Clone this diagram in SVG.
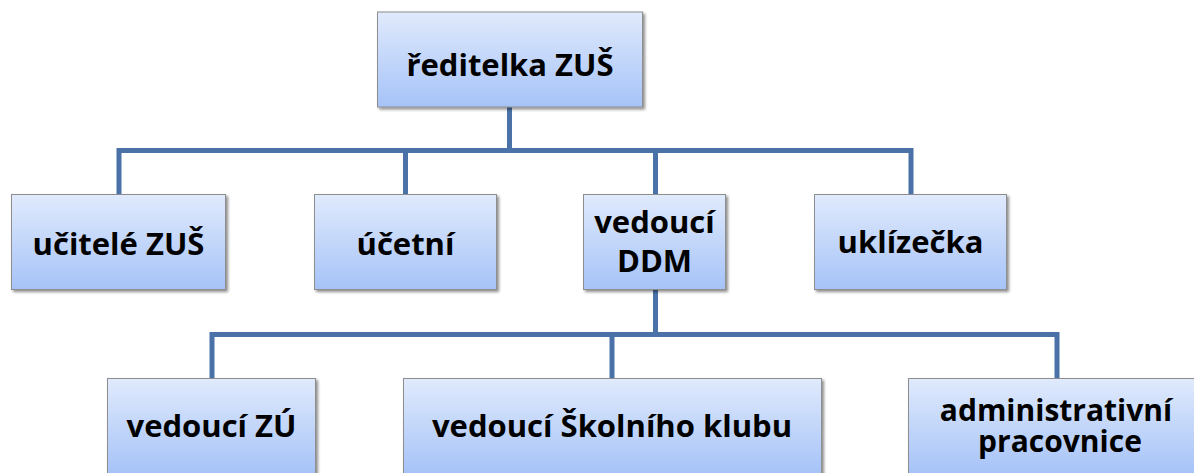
<svg xmlns="http://www.w3.org/2000/svg" width="1194" height="473" viewBox="0 0 1194 473">
<style>
.box{fill:url(#g);stroke:#8e8e8e;stroke-width:1;filter:url(#sh)}
.t{font-family:"Open Sans","Liberation Sans",sans-serif;font-weight:bold;font-size:31px;fill:#000;text-anchor:middle}
.s{font-size:30px}
.c{fill:none;stroke:#4a71a8;stroke-width:5;stroke-linejoin:miter;stroke-linecap:butt}
</style>
<defs>
<linearGradient id="g" x1="0" y1="0" x2="0" y2="1">
<stop offset="0" stop-color="#e0eafc"/>
<stop offset="1" stop-color="#a6c3f8"/>
</linearGradient>
<filter id="sh" x="-10%" y="-10%" width="130%" height="130%">
<feGaussianBlur in="SourceAlpha" stdDeviation="1.5"/>
<feOffset dx="1.5" dy="2" result="o"/>
<feComponentTransfer><feFuncA type="linear" slope="0.45"/></feComponentTransfer>
<feMerge><feMergeNode/><feMergeNode in="SourceGraphic"/></feMerge>
</filter>
</defs>
<rect width="1194" height="473" fill="#fff"/>
<g id="connectors">
<path class="c" d="M509.5 107 V150.5"/>
<path class="c" d="M119 194 V150.5 H911 V194"/>
<path class="c" d="M405.5 150.5 V194"/>
<path class="c" d="M655.5 150.5 V194"/>
<path class="c" d="M655.5 290 V334.5"/>
<path class="c" d="M212 378 V334.5 H1057 V378"/>
<path class="c" d="M612 334.5 V378"/>
</g>
<g id="n-reditelka"><rect class="box" x="377.5" y="12" width="265" height="95"/><text class="t" x="510" y="76">ředitelka ZUŠ</text></g>
<g id="n-ucitele"><rect class="box" x="11.5" y="194.5" width="214" height="95"/><text class="t" x="118.5" y="255">učitelé ZUŠ</text></g>
<g id="n-ucetni"><rect class="box" x="314.5" y="194.5" width="182" height="95"/><text class="t" x="405.5" y="255">účetní</text></g>
<g id="n-ddm"><rect class="box" x="583.5" y="194.5" width="142" height="95"/><text class="t"><tspan x="654.5" y="233">vedoucí</tspan><tspan x="654.5" y="272">DDM</tspan></text></g>
<g id="n-uklizecka"><rect class="box" x="814.5" y="194.5" width="192" height="95"/><text class="t" x="910.5" y="253">uklízečka</text></g>
<g id="n-vedouci-zu"><rect class="box" x="107.5" y="378.5" width="208" height="95"/><text class="t" x="211.5" y="437">vedoucí ZÚ</text></g>
<g id="n-skolni-klub"><rect class="box" x="403.5" y="378.5" width="418" height="95"/><text class="t" x="612" y="437">vedoucí Školního klubu</text></g>
<g id="n-admin"><rect class="box" x="908.5" y="378.5" width="296" height="95"/><text class="t s"><tspan x="1056" y="421">administrativní</tspan><tspan x="1060" y="452">pracovnice</tspan></text></g>
</svg>
